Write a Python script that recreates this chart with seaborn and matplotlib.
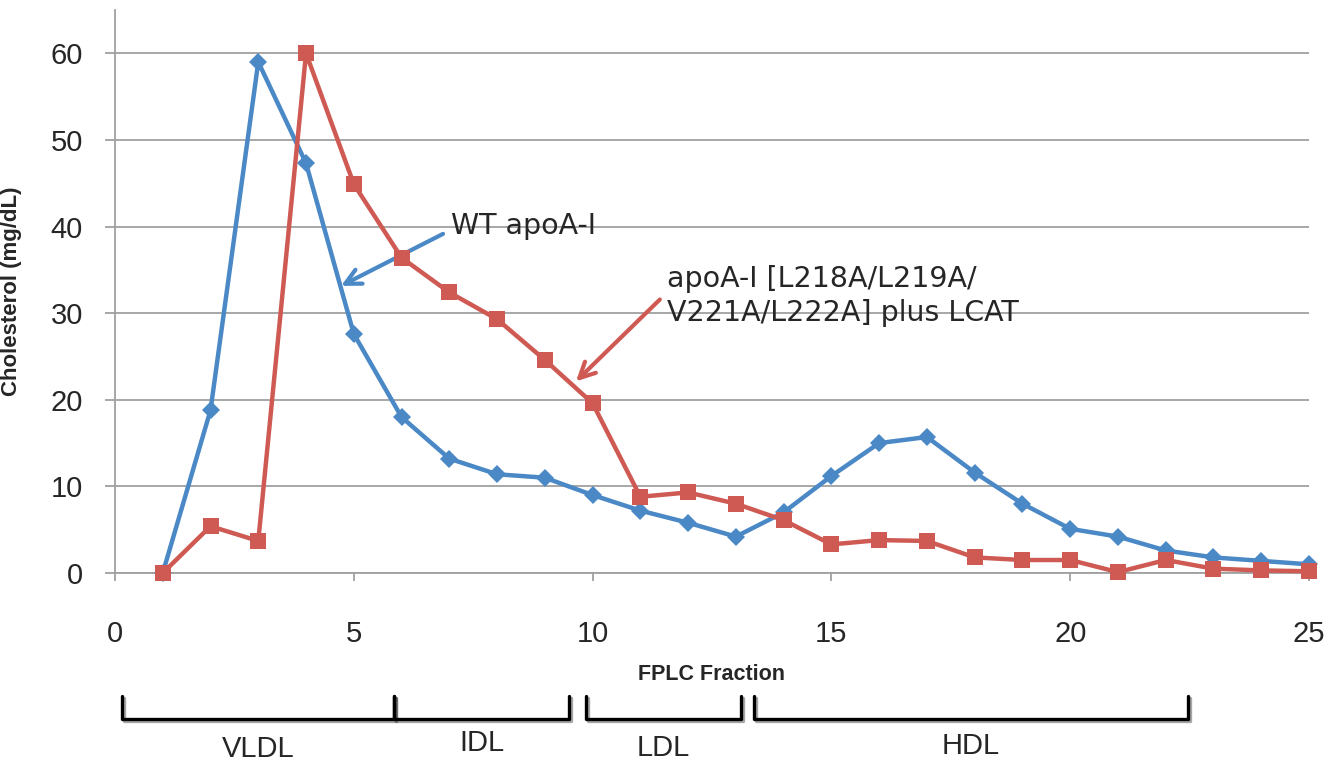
import numpy as np
import pandas as pd
import matplotlib
matplotlib.use("Agg")
from matplotlib import pyplot as plt
from matplotlib import transforms
import matplotlib.patheffects as pe
import seaborn as sns

# FPLC fractions and cholesterol (mg/dL)
fractions = list(range(1, 26))
wt_chol = [0, 18.8, 59.0, 47.3, 27.6, 18.0, 13.2, 11.4, 11.0, 9.0,
           7.2, 5.8, 4.2, 7.0, 11.2, 15.0, 15.7, 11.6, 8.0, 5.1,
           4.2, 2.6, 1.8, 1.4, 1.0]
mut_chol = [0, 5.4, 3.7, 60.0, 44.9, 36.4, 32.4, 29.3, 24.6, 19.6,
            8.8, 9.3, 8.0, 6.1, 3.3, 3.8, 3.7, 1.8, 1.5, 1.5,
            0.1, 1.5, 0.5, 0.3, 0.2]

yticks = [0, 10, 20, 30, 40, 50, 60]
xticks = [0, 5, 10, 15, 20, 25]

# lipoprotein classes and the fraction span each bracket covers
classes = ["VLDL", "IDL", "LDL", "HDL"]
class_start = [0.15, 5.85, 9.86, 13.38]
class_end = [5.85, 9.50, 13.11, 22.46]

blue = "#4A88C6"
red = "#CF5A53"
grey = "#A0A0A0"

sns.set_style("white")
plt.rcParams["font.family"] = ["Liberation Sans", "DejaVu Sans"]

df = pd.DataFrame({"Fraction": fractions, "WT": wt_chol, "Mutant": mut_chol})

fig = plt.figure(figsize=(13.36, 7.65), dpi=100)
ax = fig.add_axes([115 / 1336, 1 - 573 / 765, 1194 / 1336, 563 / 765])

sns.lineplot(data=df, x="Fraction", y="WT", ax=ax, color=blue, lw=3.2,
             marker="D", markersize=9.5, markeredgewidth=0, clip_on=False, zorder=3)
sns.lineplot(data=df, x="Fraction", y="Mutant", ax=ax, color=red, lw=3.2,
             marker="s", markersize=11.5, markeredgewidth=0, clip_on=False, zorder=4)

ax.set_xlim(0, 25)
ax.set_ylim(0, 65)
ax.set_xticks(xticks)
ax.set_yticks(yticks)
ax.yaxis.grid(True, color=grey, lw=1.3)
ax.xaxis.grid(False)
ax.set_axisbelow(True)
for s in ["top", "right"]:
    ax.spines[s].set_visible(False)
for s in ["left", "bottom"]:
    ax.spines[s].set_color(grey)
    ax.spines[s].set_linewidth(1.3)
ax.tick_params(axis="y", length=7, width=1.3, color=grey, pad=16, labelsize=21, left=True)
ax.tick_params(axis="x", length=6, width=1.3, color=grey, pad=28, labelsize=21, bottom=True)

ax.set_ylabel("Cholesterol (mg/dL)", fontsize=16, fontweight="bold")
ax.yaxis.set_label_coords(-0.078, 0.5)
ax.set_xlabel("")
fig.text(711 / 1336, 1 - 675 / 765, "FPLC Fraction", fontsize=15.5, fontweight="bold",
         ha="center", va="center")

# annotations with arrows
ax.text(7.03, 40.1, "WT apoA-I", fontsize=20.5, family="DejaVu Sans", va="center", ha="left")
ax.annotate("", xy=(4.68, 33.0), xytext=(6.92, 39.3),
            arrowprops=dict(arrowstyle="->", color=blue, lw=3, mutation_scale=28))
ax.text(11.56, 32.0, "apoA-I [L218A/L219A/\nV221A/L222A] plus LCAT", fontsize=20.5,
        family="DejaVu Sans", va="center", ha="left", linespacing=1.3)
ax.annotate("", xy=(9.61, 21.9), xytext=(11.45, 31.8),
            arrowprops=dict(arrowstyle="->", color=red, lw=3, mutation_scale=28))

# brackets below the axis marking lipoprotein classes
blend = transforms.blended_transform_factory(ax.transData, fig.transFigure)
y_low = 1 - 719 / 765
y_top = 1 - 696 / 765
label_y = [1 - 749 / 765, 1 - 743 / 765, 1 - 748 / 765, 1 - 746 / 765]
for name, x0, x1, ly in zip(classes, class_start, class_end, label_y):
    ax.plot([x0, x0, x1, x1], [y_top, y_low, y_low, y_top], color="black", lw=2.4,
            transform=blend, clip_on=False, solid_joinstyle="round",
            path_effects=[pe.SimpleLineShadow(offset=(1.5, -1.5), alpha=0.35), pe.Normal()])
    ax.text((x0 + x1) / 2, ly, name, transform=blend, fontsize=21, ha="center", va="center")

fig.savefig("out.png", dpi=100)
